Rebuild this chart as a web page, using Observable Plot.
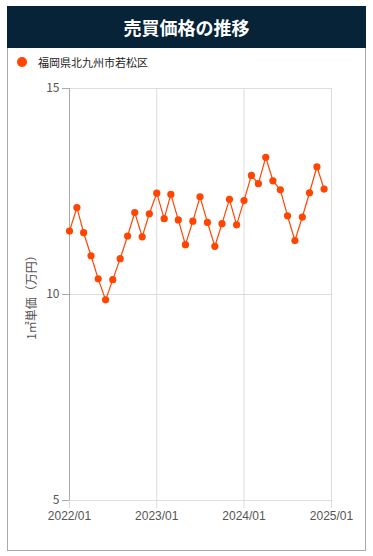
<!DOCTYPE html>
<html><head><meta charset="utf-8">
<script src="https://cdn.jsdelivr.net/npm/d3@7"></script>
<script src="https://cdn.jsdelivr.net/npm/@observablehq/plot@0.6"></script>
<style>
body{margin:0;background:#fff;font-family:"Liberation Sans",Arial,"Noto Sans CJK JP",sans-serif;}
#wrap{position:absolute;left:7px;top:6px;width:359px;}
#title{height:42px;background:#062338;color:#fff;font-family:"Noto Sans CJK JP",sans-serif;font-weight:bold;font-size:18px;line-height:42px;text-align:center;}
#card{border:1px solid #aaa;border-top:none;height:503px;box-sizing:border-box;position:relative;}
#legend{height:26px;display:flex;align-items:center;padding-left:9px;padding-top:2px;box-sizing:border-box;font-family:"Noto Sans CJK JP",sans-serif;font-size:11px;color:#222;}
#legend .dot{width:10px;height:10px;border-radius:50%;background:#ff4500;margin-right:11px;}
svg{display:block;}
</style></head><body>
<div id="wrap"><div id="title">売買価格の推移</div>
<div id="card"><div id="legend"><span class="dot"></span>福岡県北九州市若松区</div><div id="chart"></div></div></div>
<script>
const seriesName = "福岡県北九州市若松区";
const months = d3.range(36).map(i => new Date(2022, i, 1));
const values = [11.54,12.11,11.50,10.94,10.38,9.87,10.36,10.87,11.42,11.99,11.40,11.96,
12.46,11.84,12.43,11.81,11.21,11.78,12.37,11.75,11.17,11.72,12.31,11.69,
12.28,12.89,12.69,13.33,12.76,12.54,11.91,11.31,11.88,12.47,13.10,12.56];
const xTicks = [new Date(2022,0,1),new Date(2023,0,1),new Date(2024,0,1),new Date(2025,0,1)];
const yTicks = [5,10,15];
const data = months.map((d,i)=>({date:d, value:values[i]}));
const fmt = d3.timeFormat("%Y/%m");
const plot = Plot.plot({
  width:357, height:476,
  marginLeft:61, marginRight:34, marginTop:14, marginBottom:50,
  style:{fontSize:"12px", fontFamily:"'Liberation Sans',Arial,sans-serif", color:"#555", background:"transparent"},
  x:{type:"time", domain:[xTicks[0], xTicks[3]]},
  y:{domain:[5,15]},
  marks:[
    Plot.gridX(xTicks,{stroke:"#ddd", strokeOpacity:1}),
    Plot.gridY(yTicks,{stroke:"#ddd", strokeOpacity:1}),
    Plot.axisX({ticks:xTicks, tickFormat:fmt, tickSize:8, tickPadding:3, stroke:"#ddd", strokeOpacity:1, fill:"#555", label:null}),
    Plot.axisY({ticks:yTicks, tickSize:7, tickPadding:3, stroke:"#aaa", fill:"#555", label:"1㎡単価（万円）", labelAnchor:"center", labelArrow:"none", labelOffset:42, fontFamily:"'Noto Sans CJK JP',sans-serif"}),
    Plot.ruleX([xTicks[0]],{stroke:"#aaa"}),
    Plot.lineY(data,{x:"date", y:"value", stroke:"#ff4500", strokeWidth:1.2}),
    Plot.dot(data,{x:"date", y:"value", r:3.6, fill:"#ff4500", stroke:"none"})
  ]
});
document.getElementById("chart").appendChild(plot);
</script></body></html>
